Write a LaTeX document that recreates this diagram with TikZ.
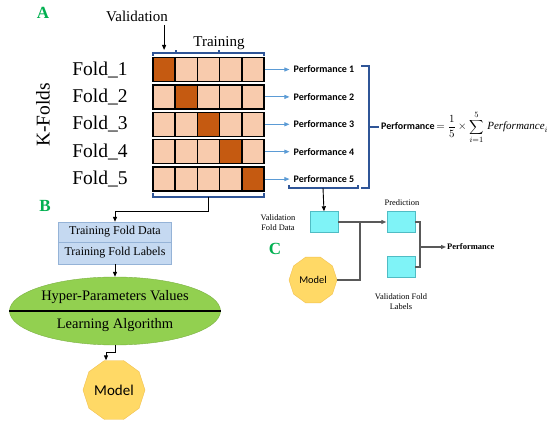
\documentclass[tikz,border=0pt]{standalone}
\usepackage{fontspec}
\setmainfont{Liberation Serif}
\newfontfamily\calibri{Carlito}
\usetikzlibrary{shapes.geometric,arrows.meta}
\definecolor{valcell}{HTML}{C55A11}
\definecolor{traincell}{HTML}{F8CBAD}
\definecolor{brkblue}{HTML}{2F5597}
\definecolor{arrblue}{HTML}{5B9BD5}
\definecolor{letgreen}{HTML}{00B050}
\definecolor{boxblue}{HTML}{C5D9F1}
\definecolor{boxedge}{HTML}{95B3D7}
\definecolor{ellgreen}{HTML}{92D050}
\definecolor{modelfill}{HTML}{FFD966}
\definecolor{modeledge}{HTML}{F2C14E}
\definecolor{cyanfill}{HTML}{7FF3F7}
\definecolor{cyanedge}{HTML}{50BCC4}
\definecolor{cgray}{HTML}{595959}
\tikzset{
  cell/.style={draw=black, line width=1.5pt, minimum width=22.2pt, minimum height=24pt, inner sep=0pt},
  foldlabel/.style={font=\fontsize{19.5}{21}\selectfont},
  perflabel/.style={font=\calibri\bfseries\fontsize{10}{12}\selectfont, inner sep=1pt},
  panel/.style={text=letgreen, font=\bfseries\fontsize{17}{19}\selectfont},
  smalltext/.style={font=\fontsize{8.4}{10}\selectfont, align=center},
  bracket/.style={draw=brkblue, line width=1.4pt},
  bluearrow/.style={draw=arrblue, line width=0.8pt, -{Triangle[length=5pt,width=4pt]}},
  blkarrow/.style={draw=black, line width=0.9pt, -{Triangle[length=5pt,width=4pt]}},
  grayline/.style={draw=cgray, line width=1.1pt},
  foldbox/.style={draw=boxedge, fill=boxblue, minimum width=113pt, inner sep=0pt, font=\fontsize{12}{14}\selectfont},
  modelshape/.style={regular polygon, regular polygon sides=10, fill=modelfill, draw=modeledge, inner sep=0pt},
  cyanbox/.style={draw=cyanedge, fill=cyanfill, minimum width=28pt, minimum height=21pt, inner sep=0pt}
}
\begin{document}
\begin{tikzpicture}[x=1pt, y=-1pt]
  \useasboundingbox[fill=white] (0,0) rectangle (550,422);
  % panel A: the five folds
  \node[panel] (lettera) at (43,13) {A};
  \node[font=\fontsize{15}{17}\selectfont] (valid) at (137,16) {Validation};
  \node[font=\fontsize{15}{17}\selectfont] (train) at (219,43) {Training};
  \node[foldlabel, rotate=90] (kfolds) at (43,115) {K-Folds};
  \foreach \r in {1,...,5} {
    \foreach \c in {1,...,5} {
      \ifnum\r=\c \def\cellcol{valcell}\else\def\cellcol{traincell}\fi
      \node[cell, fill=\cellcol] (cell-\r-\c) at ({141.9+\c*22.2}, {42.1+\r*27.4}) {};
    }
    \node[foldlabel] (fold\r) at (100, {42.1+\r*27.4}) {Fold\_\r};
    \node[perflabel] (perf\r) at (324, {42.1+\r*27.4}) {Performance \r};
    \draw[bluearrow] (cell-\r-5.east) -- ([xshift=-3pt]perf\r.west);
  }
  \coordinate (valtip) at (164,50);
  \draw[blkarrow] (valid.south -| cell-1-1) -- (cell-1-1.north |- valtip);
  \draw[bracket] (153,56) -- (153,53) -- (264,53) -- (264,56);
  \draw[bracket] (176,53) -- (176,50) (219,53) -- (219,50);
  % averaging the scores
  \draw[bracket] (361,66) -- (369,66) -- (369,188) -- (361,188);
  \draw[bracket] (369,127) -- (379,127);
  \node[anchor=west, inner sep=1pt, font=\fontsize{11}{13}\selectfont] (formula) at (380,127)
    {{\calibri\bfseries\fontsize{10}{12}\selectfont Performance}$\displaystyle\,=\frac{1}{5}\times\sum_{i=1}^{5}\,\mathit{Performance}_i$};
  \draw[bracket] (289,185) -- (289,188) -- (358,188) -- (358,185);
  \coordinate (pbrk) at (323,188);
  % panel B: training
  \node[panel] (letterb) at (45,206) {B};
  \draw[bracket] (153,193) -- (153,197) -- (264,197) -- (264,193);
  \coordinate (bbrk) at (208,197);
  \node[foldbox, minimum height=20pt] (tfdata) at (115,232) {Training Fold Data};
  \node[foldbox, minimum height=22pt] (tflabels) at (115,253) {Training Fold Labels};
  \draw[blkarrow] (bbrk) -- ++(0,14) -| (tfdata.north);
  \node[ellipse, fill=ellgreen, draw=ellgreen!85!black, minimum width=211pt, minimum height=68pt] (hyp) at (115,311) {};
  \draw[line width=1.5pt] (hyp.west) -- (hyp.east);
  \node[font=\fontsize{14.5}{16}\selectfont] (hyptext) at (115,297) {Hyper-Parameters Values};
  \node[font=\fontsize{14.5}{16}\selectfont] (learn) at (115,325) {Learning Algorithm};
  \draw[blkarrow] (tflabels.south) -- (hyp.north);
  \node[modelshape, minimum size=62pt, font=\calibri\fontsize{15}{17}\selectfont] (model) at (114,390) {Model};
  \draw[blkarrow] (hyp.south) -- ++(0,7) -| ([xshift=-8pt]model.north);
  % panel C: validation
  \node[panel] (letterc) at (275,249) {C};
  \node[cyanbox] (vfdata) at (324,222) {};
  \node[cyanbox] (pred) at (401,222) {};
  \node[cyanbox] (vflabels) at (401,267) {};
  \node[smalltext] (vfdatatext) at (278,223) {Validation\\Fold Data};
  \node[smalltext] (predtext) at (402,203) {Prediction};
  \node[smalltext] (vflabelstext) at (401,302) {Validation Fold\\Labels};
  \node[modelshape, minimum size=48pt, font=\calibri\fontsize{10.4}{12}\selectfont] (cmodel) at (313,280) {Model};
  \draw[blkarrow] (pbrk) -- (vfdata.north);
  \coordinate (join1) at (360,222);
  \coordinate (join2) at (420,247);
  \draw[grayline, -{Triangle[length=5pt,width=4pt]}, shorten >=0.5pt] (vfdata.east) -- (pred.west);
  \draw[grayline] (cmodel.east) -| (join1);
  \draw[grayline] (pred.east) -| (join2) |- (vflabels.east);
  \node[anchor=west, inner sep=1pt, font=\bfseries\fontsize{8.5}{10}\selectfont] (cperf) at (446,247) {Performance};
  \draw[grayline, -{Triangle[length=5pt,width=4pt]}] (join2) -- (cperf.west);
\end{tikzpicture}
\end{document}
